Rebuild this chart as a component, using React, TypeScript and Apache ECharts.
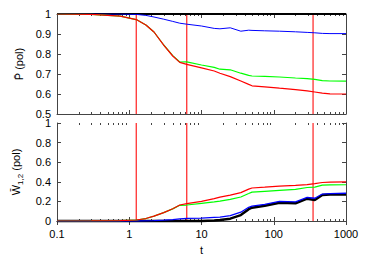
import React, { useEffect, useRef } from "react";
import * as echarts from "echarts";

const TIMES = [0.1, 0.3, 0.75, 1.25, 1.7, 2.2, 3, 4, 5, 6.25, 10, 15, 18, 25, 35, 45, 50, 75, 120, 200, 290, 370, 470, 600, 1000];

const P_BLACK = [1, 1, 1, 1, 1, 1, 1, 1, 1, 1, 1, 1, 1, 1, 1, 1, 1, 1, 1, 1, 1, 1, 1, 1, 1];
const P_BLUE = [1.0, 1.0, 1.0, 0.998, 0.993, 0.985, 0.974, 0.963, 0.954, 0.949, 0.94, 0.928, 0.926, 0.931, 0.914, 0.919, 0.918, 0.916, 0.914, 0.911, 0.908, 0.906, 0.903, 0.902, 0.902];
const P_GREEN = [1.0, 0.998, 0.989, 0.972, 0.945, 0.91, 0.845, 0.792, 0.76, 0.761, 0.745, 0.733, 0.724, 0.721, 0.704, 0.693, 0.69, 0.688, 0.685, 0.68, 0.677, 0.673, 0.667, 0.665, 0.664];
const P_RED = [1.0, 0.998, 0.989, 0.972, 0.945, 0.91, 0.844, 0.79, 0.758, 0.748, 0.731, 0.715, 0.704, 0.687, 0.665, 0.648, 0.641, 0.636, 0.629, 0.622, 0.616, 0.61, 0.604, 0.601, 0.6];

const W_BLACK = [0, 0, 0, 0, 0, 0, 0, 0, 0, 0, 0.001, 0.005, 0.01, 0.024, 0.06, 0.12, 0.136, 0.155, 0.187, 0.18, 0.228, 0.215, 0.265, 0.27, 0.27];
const W_BLUE = [0, 0, 0, 0, 0.002, 0.004, 0.008, 0.015, 0.022, 0.026, 0.03, 0.037, 0.04, 0.055, 0.09, 0.14, 0.152, 0.17, 0.2, 0.195, 0.24, 0.232, 0.275, 0.28, 0.283];
const W_GREEN = [0, 0.001, 0.003, 0.01, 0.025, 0.05, 0.085, 0.124, 0.16, 0.163, 0.18, 0.195, 0.203, 0.22, 0.245, 0.28, 0.295, 0.303, 0.312, 0.322, 0.342, 0.346, 0.366, 0.368, 0.37];
const W_RED = [0, 0.001, 0.003, 0.01, 0.025, 0.05, 0.085, 0.125, 0.163, 0.177, 0.2, 0.228, 0.244, 0.264, 0.29, 0.325, 0.337, 0.345, 0.355, 0.363, 0.372, 0.382, 0.393, 0.397, 0.4];

const VLINES = [1.25, 6.25, 350];
const MINOR_TICKS = [0.2, 0.3, 0.4, 0.5, 0.6, 0.7, 0.8, 0.9, 2, 3, 4, 5, 6, 7, 8, 9, 20, 30, 40, 50, 60, 70, 80, 90, 200, 300, 400, 500, 600, 700, 800, 900];

const FONT = "'Liberation Sans', Arial, Helvetica, sans-serif";
const AXIS_COLOR = "#444";
const VLINE_COLOR = "#ff2020";

const pairs = (vals: number[]) => TIMES.map((t, i) => [t, vals[i]]);

function xAxisDef(gridIndex: number, position: "top" | "bottom", labels: boolean) {
  return {
    type: "log",
    logBase: 10,
    gridIndex,
    position,
    min: 0.1,
    max: 1000,
    axisLine: { show: true, lineStyle: { color: AXIS_COLOR, width: 1 } },
    axisTick: { show: true, inside: true, length: 4, lineStyle: { color: AXIS_COLOR } },
    axisLabel: {
      show: labels,
      color: "#000",
      fontSize: 11,
      fontFamily: FONT,
      margin: 7,
      formatter: (v: number) => String(Number(v.toPrecision(6))),
    },
    splitLine: { show: false },
    ...(labels
      ? { name: "t", nameLocation: "middle", nameGap: 23, nameTextStyle: { color: "#000", fontSize: 11, fontFamily: FONT } }
      : {}),
  };
}

function yAxisDef(gridIndex: number, position: "left" | "right", min: number, max: number, interval: number, name?: any, nameGap?: number, rich?: any) {
  return {
    type: "value",
    gridIndex,
    position,
    min,
    max,
    interval,
    axisLine: { show: true, lineStyle: { color: AXIS_COLOR, width: 1 } },
    axisTick: { show: true, inside: true, length: 4, lineStyle: { color: AXIS_COLOR } },
    axisLabel: { show: position === "left", color: "#000", fontSize: 11, fontFamily: FONT, margin: 6 },
    splitLine: { show: false },
    ...(name
      ? {
          name,
          nameLocation: "middle",
          nameGap,
          nameRotate: 90,
          nameTextStyle: { color: "#000", fontSize: 11, fontFamily: FONT, ...(rich ? { rich } : {}) },
        }
      : {}),
  };
}

function lineSeries(xi: number, yi: number, vals: number[], color: string, width: number, clip = true) {
  return {
    type: "line",
    xAxisIndex: xi,
    yAxisIndex: yi,
    data: pairs(vals),
    showSymbol: false,
    symbol: "none",
    clip,
    color,
    lineStyle: { color, width },
    silent: true,
  };
}

function vlineSeries(xi: number, yi: number, yVal: number) {
  return {
    type: "custom",
    xAxisIndex: xi,
    yAxisIndex: yi,
    silent: true,
    z: 3,
    color: VLINE_COLOR,
    data: VLINES.map((t) => [t, yVal]),
    renderItem: (params: any, api: any) => {
      const pt = api.coord([api.value(0), api.value(1)]);
      const cs = params.coordSys;
      const x = pt[0];
      return {
        type: "line",
        shape: { x1: x, y1: cs.y, x2: x, y2: cs.y + cs.height },
        style: { stroke: VLINE_COLOR, lineWidth: 1.2, fill: null },
      };
    },
  };
}

function minorTickSeries(xi: number, yi: number, yVal: number) {
  return {
    type: "custom",
    xAxisIndex: xi,
    yAxisIndex: yi,
    silent: true,
    data: MINOR_TICKS.map((t) => [t, yVal]),
    renderItem: (params: any, api: any) => {
      const pt = api.coord([api.value(0), api.value(1)]);
      const cs = params.coordSys;
      const x = Math.round(pt[0]);
      const yb = cs.y + cs.height;
      const yt = cs.y;
      const style = { fill: AXIS_COLOR, stroke: null };
      return {
        type: "group",
        children: [
          { type: "rect", shape: { x, y: yb - 2, width: 1, height: 2 }, style },
          { type: "rect", shape: { x, y: yt, width: 1, height: 2 }, style },
        ],
      };
    },
  };
}

export default function App() {
  const ref = useRef<HTMLDivElement>(null);
  useEffect(() => {
    const chart = echarts.init(ref.current!, null, { renderer: "svg" });
    const option: any = {
      animation: false,
      backgroundColor: "#fff",
      grid: [
        { left: 57, top: 14, width: 289, height: 100 },
        { left: 57, top: 123, width: 289, height: 99 },
      ],
      xAxis: [
        xAxisDef(0, "bottom", false),
        xAxisDef(0, "top", false),
        xAxisDef(1, "bottom", true),
        xAxisDef(1, "top", false),
      ],
      yAxis: [
        yAxisDef(0, "left", 0.5, 1, 0.1, "P\u0304 (pol)", 29),
        yAxisDef(0, "right", 0.5, 1, 0.1),
        yAxisDef(1, "left", 0, 1, 0.2, "{m|W\u0304}{s|1,2}{m| (pol)}", 33, {
          m: { fontSize: 11, fontFamily: FONT, color: "#000", lineHeight: 16, verticalAlign: "middle" },
          s: { fontSize: 8, fontFamily: FONT, color: "#000", lineHeight: 10, verticalAlign: "bottom" },
        }),
        yAxisDef(1, "right", 0, 1, 0.2),
      ],
      series: [
        minorTickSeries(0, 0, 0.5),
        minorTickSeries(2, 2, 0),
        lineSeries(0, 0, P_BLACK, "#000000", 2.2, false),
        lineSeries(0, 0, P_BLUE, "#0000ff", 1),
        lineSeries(0, 0, P_GREEN, "#00ff00", 1.2),
        lineSeries(0, 0, P_RED, "#ff0000", 1.2),
        lineSeries(2, 2, W_BLACK, "#000000", 2.5, false),
        lineSeries(2, 2, W_BLUE, "#0000ff", 1.3),
        lineSeries(2, 2, W_GREEN, "#00ff00", 1.2),
        lineSeries(2, 2, W_RED, "#ff0000", 1.2),
        vlineSeries(0, 0, 0.5),
        vlineSeries(2, 2, 0),
      ],
    };
    chart.setOption(option);
    return () => chart.dispose();
  }, []);
  return <div ref={ref} style={{ position: "absolute", left: 0, top: 0, width: 365, height: 256 }} />;
}
